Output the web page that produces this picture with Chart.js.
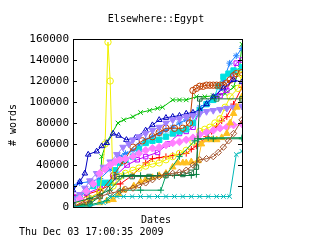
<!DOCTYPE html>
<html>
<head>
<meta charset="utf-8">
<script src="https://cdn.jsdelivr.net/npm/chart.js@4/dist/chart.umd.min.js"></script>
<style>
  html, body { margin: 0; padding: 0; background: #fff; }
  #wrap { width: 320px; height: 240px; position: relative; }
</style>
</head>
<body>
<div id="wrap"><canvas id="egyptChart" width="320" height="240"></canvas></div>
<script>
// y axis ticks
const yTicks = [0, 20000, 40000, 60000, 80000, 100000, 120000, 140000, 160000];

// each series: positions along the date axis (0..100) and word counts
const redT = [0, 8, 16, 22, 28, 35, 43, 47, 51, 55, 59, 63, 67, 70, 73, 76, 79, 82, 85, 88, 91, 95, 100];
const redV = [11000, 12000, 16000, 21000, 22000, 30000, 42000, 46000, 47000, 48000, 49000, 50000, 51000, 55000, 58000, 62000, 67000, 72000, 77000, 82000, 86000, 98000, 114000];

const greenT = [0, 5, 10, 15.8, 17, 20, 26.6, 30, 35.5, 40, 45.4, 50, 53, 59, 63, 67, 73, 78, 83, 90, 95, 98.6, 100];
const greenV = [600, 2000, 5000, 10000, 48000, 62000, 80000, 83000, 86000, 90000, 92000, 94000, 95000, 102000, 102000, 102000, 105000, 105000, 106000, 108000, 114000, 133000, 155000];

const blueT = [0, 4, 10, 16, 22, 27.6, 31, 35.5, 39, 43, 47, 51, 55, 59, 63, 67, 71, 75, 80, 85, 89, 92.7, 96.6, 100];
const blueV = [20000, 23000, 24000, 27000, 36000, 48000, 51000, 54000, 59000, 64000, 67000, 70000, 73000, 76000, 80000, 83000, 88000, 95000, 100000, 105000, 120000, 137000, 144000, 151000];

const magT = [0, 8, 16, 24, 32, 38, 43, 50, 56, 63, 67, 71, 75, 79, 83, 87, 91, 96.6, 100];
const magV = [10000, 13000, 18000, 28000, 40000, 45000, 48000, 52000, 60000, 70000, 72000, 76000, 92000, 98000, 102000, 106000, 111000, 137000, 140000];

const cyanT = [0, 4, 8, 12, 15.8, 19, 22, 25, 27.6, 31, 35.5, 39, 43, 47, 51, 55, 59, 63, 67, 71, 75, 79, 83, 86, 89, 92, 95, 100];
const cyanV = [7000, 10000, 15000, 20000, 23000, 23000, 23000, 35000, 42000, 45000, 48000, 55000, 61000, 63000, 64000, 67000, 70000, 72000, 74000, 80000, 92000, 98000, 102000, 115000, 124000, 127000, 130000, 133000];

const brownT = [0, 8, 16, 24, 30, 35.5, 41, 47, 51, 55, 60, 65, 69, 71, 73, 75, 77, 79, 81, 83, 85, 87, 89, 91, 93, 95, 96.6, 100];
const brownV = [0, 7000, 14000, 30000, 44000, 57000, 63000, 67000, 71000, 75000, 75000, 75000, 80000, 111000, 113000, 115000, 115000, 116000, 116000, 116000, 116000, 116000, 116000, 118000, 121000, 125000, 127000, 128000];

const yellowT = [0, 10, 16, 19, 20.7, 22, 23.7, 27.6, 31, 35.5, 39, 43, 47, 51, 55, 59, 63, 67, 71, 75, 78, 81, 84, 87, 90, 93, 97.6, 100];
const yellowV = [3000, 8000, 15000, 60000, 157000, 120000, 20000, 29000, 32000, 35000, 37000, 39000, 41000, 42000, 45000, 48000, 51000, 54000, 62000, 72000, 74000, 76000, 80000, 84000, 95000, 105000, 113000, 126000];

const navyT = [0, 4, 7, 9, 14, 17, 20, 23.7, 27, 31.6, 37, 43, 47, 51, 55, 59, 63, 67, 71, 75, 79, 83, 89, 95, 100];
const navyV = [16000, 24000, 32000, 50000, 53000, 58000, 61000, 70000, 68000, 64000, 66000, 73000, 78000, 83000, 85000, 86000, 87000, 89000, 90000, 92000, 98000, 105000, 113000, 121000, 119000];

const lavT = [0, 4, 7, 10, 14, 18, 22, 26, 29.6, 33, 35.5, 39, 43, 47, 51, 55, 59, 63, 67, 71, 75, 79, 83, 87, 91, 95, 100];
const lavV = [7000, 12000, 18000, 25000, 32000, 38000, 43000, 50000, 57000, 60000, 64000, 67000, 70000, 73000, 76000, 80000, 83000, 84000, 86000, 87000, 89000, 91000, 92000, 93000, 94000, 95000, 96000];

const violetT = [0, 4, 8, 12, 15.8, 19, 22, 25, 27.6, 31, 35.5, 39, 43, 47, 51, 55, 59, 63, 67, 71, 75, 79, 83, 87, 91, 95, 100];
const violetV = [4000, 8000, 15000, 22000, 32000, 36000, 40000, 43000, 45000, 46000, 48000, 51000, 54000, 56000, 57000, 59000, 61000, 62000, 64000, 66000, 69000, 71000, 73000, 75000, 76000, 78000, 79000];

const goldT = [0, 8, 15.8, 20, 23.7, 27, 30, 36, 40, 43, 47, 51, 55, 59, 62, 65, 67, 70, 74, 76, 79, 82, 85, 88, 91, 93, 95, 97, 100];
const goldV = [0, 1000, 4000, 6000, 7000, 12000, 16000, 20000, 24000, 26000, 28000, 30000, 32000, 38000, 42000, 42000, 42000, 43000, 44000, 60000, 64000, 64000, 64000, 66000, 70000, 80000, 89000, 95000, 105000];

const tealT = [0, 10, 18, 21.7, 26, 30, 35, 40, 45, 50, 55, 60, 65, 70, 75, 80, 85, 89, 92.7, 96.6, 100];
const tealV = [0, 1000, 4000, 10000, 10000, 10000, 10000, 10000, 10000, 10000, 10000, 10000, 10000, 10000, 10000, 10000, 10000, 10000, 10000, 50000, 53000];

const sepiaT = [0, 8, 15.8, 22, 27.6, 31, 35.5, 39, 43, 47, 51, 55, 59, 63, 67, 71, 75, 79, 83, 86, 89, 92, 95, 100];
const sepiaV = [0, 5000, 10000, 13000, 15000, 17000, 18000, 21000, 23000, 26000, 29000, 31000, 32000, 33000, 35000, 40000, 45000, 46000, 48000, 52000, 57000, 63000, 70000, 83000];

const dkgreenT = [0, 10, 21.7, 30, 40, 50, 60, 70, 73, 74, 83, 100];
const dkgreenV = [4000, 8000, 16000, 30000, 30000, 30000, 30000, 30000, 31000, 65000, 65000, 65000];

const forestT = [0, 10, 16, 26, 35, 45, 55, 65, 70, 73, 75, 85, 100];
const forestV = [1000, 3000, 10000, 29000, 29000, 29000, 30000, 31000, 33000, 38000, 103000, 103000, 103000];

const seaT = [0, 10, 20, 28, 40, 52, 55, 63, 72, 80, 100];
const seaV = [0, 2000, 6000, 16000, 16000, 16000, 30000, 48000, 63000, 66000, 66000];

function pts(t, v) {
    return t.map((x, i) => ({ x: x, y: v[i] }));
}

function series(t, v, color, style, filled, rot) {
    return {
        data: pts(t, v),
        borderColor: color,
        backgroundColor: filled ? color : 'rgba(0,0,0,0)',
        pointBorderColor: color,
        pointBackgroundColor: filled ? color : 'rgba(0,0,0,0)',
        pointStyle: style,
        pointRotation: rot || 0,
        pointRadius: filled ? 3.8 : 3.2,
        pointBorderWidth: 1,
        borderWidth: 1,
        tension: 0,
        fill: false
    };
}

const datasets = [
    series(tealT, tealV, '#00b8b8', 'crossRot', false),
    series(sepiaT, sepiaV, '#a0522d', 'rectRot', false),
    series(seaT, seaV, '#00a060', 'cross', false),
    series(forestT, forestV, '#207040', 'rect', false),
    series(dkgreenT, dkgreenV, '#008040', 'cross', false),
    series(goldT, goldV, '#ffc020', 'triangle', true),
    series(violetT, violetV, '#ff80ff', 'rectRot', true),
    series(lavT, lavV, '#a080ff', 'triangle', true, 180),
    series(navyT, navyV, '#0000c0', 'triangle', false),
    series(yellowT, yellowV, '#f0f000', 'circle', false),
    series(brownT, brownV, '#c04000', 'circle', false),
    series(cyanT, cyanV, '#00e0e0', 'rect', true),
    series(magT, magV, '#c000ff', 'rect', false),
    series(blueT, blueV, '#1e80ff', 'star', false),
    series(greenT, greenV, '#00c000', 'crossRot', false),
    series(redT, redV, '#ff0000', 'cross', false)
];

const MONO = '"DejaVu Sans Mono", "Liberation Mono", monospace';

const frameAndText = {
    id: 'frameAndText',
    afterDraw(chart) {
        const { ctx, chartArea: a, scales } = chart;
        ctx.save();
        ctx.strokeStyle = '#000';
        ctx.lineWidth = 1;
        ctx.strokeRect(Math.round(a.left) + 0.5, Math.round(a.top) + 0.5,
                       Math.round(a.right - a.left), Math.round(a.bottom - a.top));
        // inward tick marks on both sides
        yTicks.forEach(v => {
            const y = Math.round(scales.y.getPixelForValue(v)) + 0.5;
            ctx.beginPath();
            ctx.moveTo(a.left, y); ctx.lineTo(a.left + 4, y);
            ctx.moveTo(a.right, y); ctx.lineTo(a.right - 4, y);
            ctx.stroke();
        });
        ctx.fillStyle = '#000';
        ctx.font = '10px ' + MONO;
        ctx.textAlign = 'center';
        ctx.textBaseline = 'middle';
        ctx.fillText('Elsewhere::Egypt', 156, 19);
        ctx.fillText('Dates', 156, 220);
        ctx.textAlign = 'left';
        ctx.fillText('Thu Dec 03 17:00:35 2009', 19, 232);
        ctx.translate(13, 125);
        ctx.rotate(-Math.PI / 2);
        ctx.textAlign = 'center';
        ctx.fillText('# words', 0, 0);
        ctx.restore();
    }
};

new Chart(document.getElementById('egyptChart'), {
    type: 'line',
    data: { datasets: datasets },
    options: {
        responsive: false,
        animation: false,
        layout: { padding: { left: 0, top: 39, right: 78, bottom: 33 } },
        plugins: {
            legend: { display: false },
            title: { display: false },
            tooltip: { enabled: false }
        },
        scales: {
            x: {
                type: 'linear',
                min: 0,
                max: 100,
                display: false
            },
            y: {
                min: 0,
                max: 160000,
                afterFit(scale) { scale.width = 73; },
                afterBuildTicks(scale) { scale.ticks = yTicks.map(v => ({ value: v })); },
                grid: { display: false, drawTicks: false },
                border: { display: false },
                ticks: {
                    color: '#000',
                    padding: 4,
                    font: { family: MONO, size: 11 },
                    callback: v => String(v)
                }
            }
        }
    },
    plugins: [frameAndText]
});
</script>
</body>
</html>
